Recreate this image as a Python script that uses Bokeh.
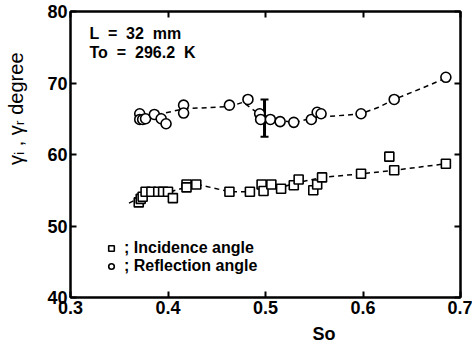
import math
from bokeh.plotting import figure
from bokeh.models import (Range1d, LinearAxis, Label, Legend, LegendItem, Whisker,
                          ColumnDataSource, FixedTicker, Title, CustomJSTickFormatter)
from bokeh.embed import file_html
from bokeh.resources import INLINE

# Incidence angle (squares)
inc_x = [0.370, 0.372, 0.374, 0.377, 0.383, 0.390, 0.395, 0.400, 0.405, 0.419, 0.419, 0.429,
         0.463, 0.484, 0.496, 0.498, 0.506, 0.516, 0.529, 0.534, 0.549, 0.553, 0.558, 0.598,
         0.627, 0.632, 0.685]
inc_y = [53.3, 53.8, 54.1, 54.8, 54.8, 54.8, 54.8, 54.8, 53.9, 55.8, 55.4, 55.8,
         54.8, 54.8, 55.8, 54.9, 55.8, 55.2, 55.7, 56.5, 55.0, 55.8, 56.8, 57.3,
         59.7, 57.8, 58.7]

# Reflection angle (circles)
ref_x = [0.371, 0.371, 0.374, 0.377, 0.386, 0.393, 0.398, 0.416, 0.416, 0.463, 0.482,
         0.494, 0.495, 0.505, 0.515, 0.529, 0.547, 0.553, 0.557, 0.598, 0.632, 0.685]
ref_y = [65.7, 64.9, 64.9, 65.0, 65.6, 65.0, 64.3, 66.9, 65.8, 66.9, 67.7,
         65.7, 64.9, 64.9, 64.6, 64.5, 64.9, 65.9, 65.7, 65.7, 67.7, 70.8]

# Dashed fit curves
inc_fit_x = [0.360, 0.372, 0.377, 0.403, 0.420, 0.434, 0.463, 0.484, 0.499, 0.516, 0.534, 0.558, 0.598, 0.632, 0.685]
inc_fit_y = [53.2, 54.0, 54.7, 54.8, 55.5, 55.7, 54.8, 54.8, 55.4, 55.4, 56.1, 56.8, 57.3, 57.8, 58.7]
ref_fit_x = [0.371, 0.393, 0.417, 0.463, 0.477, 0.495, 0.510, 0.530, 0.551, 0.582, 0.598, 0.616, 0.632, 0.668, 0.685]
ref_fit_y = [65.0, 65.7, 66.4, 66.7, 67.3, 65.5, 64.8, 64.5, 65.2, 65.5, 65.7, 66.6, 67.7, 69.7, 70.7]

# Error bar
err_x = [0.499]
err_lo = [62.5]
err_hi = [67.7]

x_ticks = [0.3, 0.4, 0.5, 0.6, 0.7]
y_ticks = [40, 50, 60, 70, 80]
notes = ["L \u00a0= \u00a032 \u00a0mm", "To \u00a0= \u00a0296.2 \u00a0K"]
legend_labels = ["; Incidence angle", "; Reflection angle"]
x_title = "So"
y_title = "\u03b3\u1d62 , \u03b3\u1d63 degree"

FONT = "Liberation Sans"

p = figure(width=472, height=349, output_backend="svg", toolbar_location=None,
           x_range=Range1d(0.3, 0.7), y_range=Range1d(40, 80),
           min_border_left=70, min_border_right=12, min_border_top=11, min_border_bottom=52)
p.grid.visible = False
p.outline_line_color = "black"
p.outline_line_width = 2

for ax in p.xaxis + p.yaxis:
    ax.major_tick_in = 6
    ax.major_tick_out = 0
    ax.minor_tick_line_color = None
    ax.axis_line_width = 2
    ax.major_tick_line_width = 2
    ax.major_label_text_font = FONT
    ax.major_label_text_font_size = "18px"
    ax.major_label_text_font_style = "bold"
    ax.major_label_text_color = "black"
p.xaxis.ticker = FixedTicker(ticks=x_ticks)
p.yaxis.ticker = FixedTicker(ticks=y_ticks)
p.xaxis.major_label_standoff = 3
p.yaxis.major_label_standoff = 3

blank = CustomJSTickFormatter(code="return ''")
top = LinearAxis(ticker=FixedTicker(ticks=x_ticks), formatter=blank, major_label_standoff=0,
                 major_tick_in=6, major_tick_out=0, minor_tick_line_color=None,
                 major_tick_line_width=2, axis_line_width=2)
right = LinearAxis(ticker=FixedTicker(ticks=y_ticks), formatter=blank, major_label_standoff=0,
                   major_tick_in=6, major_tick_out=0, minor_tick_line_color=None,
                   major_tick_line_width=2, axis_line_width=2)
p.add_layout(top, "above")
p.add_layout(right, "right")

p.add_layout(Title(text=x_title, align="left", offset=242, text_font=FONT, text_font_size="18px",
                   text_font_style="bold", text_color="black", standoff=10), "below")
# spacer so the rotated y title sits closer to the tick labels
p.add_layout(Title(text=" ", text_font_size="1px", standoff=14), "left")
p.add_layout(Title(text=y_title, align="right", offset=41, text_font=FONT, vertical_align="middle",
                   text_font_size="20px", text_font_style="normal", text_color="black",
                   standoff=0), "left")

p.line(inc_fit_x, inc_fit_y, line_dash="5 4", line_width=1.5, color="black")
p.line(ref_fit_x, ref_fit_y, line_dash="5 4", line_width=1.5, color="black")

src_err = ColumnDataSource(dict(x=err_x, lo=err_lo, hi=err_hi))
w = Whisker(source=src_err, base="x", lower="lo", upper="hi", dimension="height",
            line_width=3, line_color="black")
w.upper_head.size = 8
w.lower_head.size = 8
w.upper_head.line_width = 2
w.lower_head.line_width = 2
p.add_layout(w)

sq = p.scatter(inc_x, inc_y, marker="square", size=9, fill_color="white", line_color="black", line_width=1.6)
ci = p.scatter(ref_x, ref_y, marker="circle", size=10, fill_color="white", line_color="black", line_width=1.6)

for i, t in enumerate(notes):
    p.add_layout(Label(x=0.3, y=80, x_offset=19, y_offset=-22 - 19 * i, text=t, text_font=FONT,
                       text_font_size="16px", text_font_style="bold", text_baseline="middle",
                       text_color="black"))

leg = Legend(items=[LegendItem(label=legend_labels[0], renderers=[sq]),
                    LegendItem(label=legend_labels[1], renderers=[ci])],
             location=(34, 22), padding=0, margin=0, spacing=0, glyph_width=14, glyph_height=16,
             label_standoff=6, label_text_font=FONT, label_text_font_size="16px",
             label_text_font_style="bold", label_height=16, label_text_color="black",
             border_line_color=None, background_fill_alpha=0)
p.add_layout(leg)

open("out.html", "w").write(file_html(p, INLINE))
